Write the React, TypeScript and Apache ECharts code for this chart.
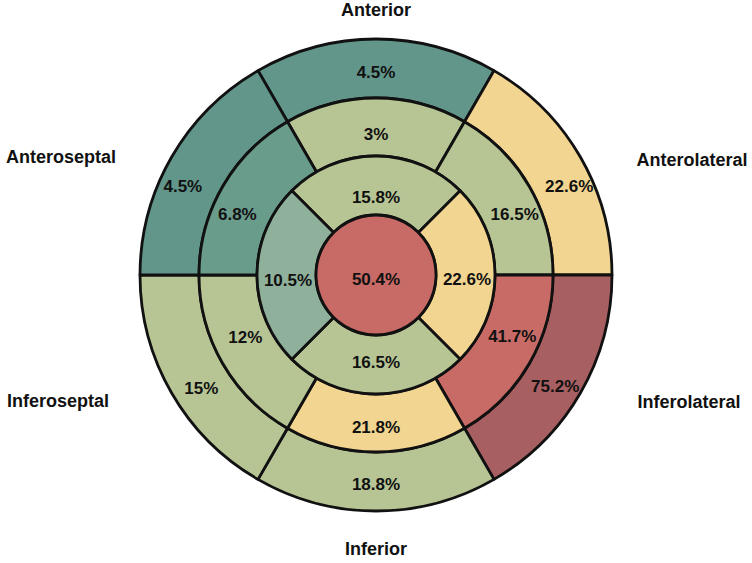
import React, { useEffect, useRef } from "react";
import * as echarts from "echarts";

// Wall regions around the bullseye (clockwise from the top)
const regionLabels = ["Anterior", "Anterolateral", "Inferolateral", "Inferior", "Inferoseptal", "Anteroseptal"];

// Basal ring (outer), clockwise from Anterior
const basalValues = [4.5, 22.6, 75.2, 18.8, 15, 4.5];
// Mid ring, clockwise from Anterior
const midValues = [3, 16.5, 41.7, 21.8, 12, 6.8];
// Apical ring: Anterior, Lateral, Inferior, Septal
const apicalNames = ["Apical anterior", "Apical lateral", "Apical inferior", "Apical septal"];
const apicalValues = [15.8, 22.6, 16.5, 10.5];
// Apex (centre)
const apexValue = 50.4;

// Fill colours per segment
const basalColors = ["#62968a", "#f2d590", "#a85f62", "#b7c595", "#b7c595", "#62968a"];
const midColors = ["#b7c595", "#b7c595", "#c86b66", "#f2d590", "#b7c595", "#6a9c8c"];
const apicalColors = ["#b7c595", "#f2d590", "#b7c595", "#8fb09a"];
const apexColor = "#c86b66";

const CX = 376;
const CY = 275;
const RADII = [0, 60, 119, 177, 236];
const LABEL_DY = 4;

// Label anchor [angle in degrees, radius] for each segment of a ring
const basalLabelPos: [number, number][] = [
  [90, 207], [25.5, 214], [-31, 209], [-90, 205], [-148, 206], [154.5, 214],
];
const midLabelPos: [number, number][] = [
  [90, 145], [25, 153], [-23, 148], [-90, 148], [-156, 143], [155, 153],
];
const apicalLabelPos: [number, number][] = [
  [90, 82], [0, 91], [-90, 83], [181, 88],
];

const fmtPct = (v: number) => `${v}%`;

function ringData(names: string[], values: number[], colors: string[]) {
  return values.map((v, i) => ({
    name: names[i],
    value: 1,
    pct: v,
    itemStyle: { color: colors[i] },
  }));
}

function labelLayoutFor(pos: [number, number][]) {
  return (params: any) => {
    const [a, r] = pos[params.dataIndex];
    const rad = (a * Math.PI) / 180;
    return { x: CX + r * Math.cos(rad), y: CY - r * Math.sin(rad) + LABEL_DY };
  };
}

const labelStyle = {
  show: true,
  position: "inside" as const,
  color: "#111",
  fontFamily: "Liberation Sans, Arial, sans-serif",
  fontWeight: "bold" as const,
  fontSize: 17,
  formatter: (p: any) => fmtPct(p.data.pct),
};

const ringBase = {
  type: "pie" as const,
  center: [CX, CY],
  clockwise: true,
  silent: true,
  avoidLabelOverlap: false,
  labelLine: { show: false },
  emphasis: { disabled: true },
  itemStyle: { borderColor: "#111", borderWidth: 2.8 },
  label: labelStyle,
};

export default function App() {
  const ref = useRef<HTMLDivElement>(null);

  useEffect(() => {
    if (!ref.current) return;
    const chart = echarts.init(ref.current, undefined, { renderer: "svg" });

    const regionTextPos: [number, number][] = [
      [376, 10],
      [692, 160],
      [689, 402],
      [376, 549],
      [58, 401],
      [61, 157],
    ];

    chart.setOption({
      animation: false,
      backgroundColor: "#ffffff",
      graphic: regionLabels.map((t, i) => ({
        type: "text",
        x: regionTextPos[i][0],
        y: regionTextPos[i][1],
        style: {
          text: t,
          fill: "#111",
          font: "bold 18px 'Liberation Sans', Arial, sans-serif",
          textAlign: "center",
          textVerticalAlign: "middle",
        },
      })),
      series: [
        {
          ...ringBase,
          name: "Basal",
          radius: [RADII[3], RADII[4]],
          startAngle: 120,
          data: ringData(regionLabels, basalValues, basalColors),
          labelLayout: labelLayoutFor(basalLabelPos),
        },
        {
          ...ringBase,
          name: "Mid",
          radius: [RADII[2], RADII[3]],
          startAngle: 120,
          data: ringData(regionLabels, midValues, midColors),
          labelLayout: labelLayoutFor(midLabelPos),
        },
        {
          ...ringBase,
          name: "Apical",
          radius: [RADII[1], RADII[2]],
          startAngle: 135,
          data: ringData(apicalNames, apicalValues, apicalColors),
          labelLayout: labelLayoutFor(apicalLabelPos),
        },
        {
          ...ringBase,
          name: "Apex",
          radius: [RADII[0], RADII[1]],
          startAngle: 90,
          data: [{ name: "Apex", value: 1, pct: apexValue, itemStyle: { color: apexColor } }],
          labelLayout: () => ({ x: CX, y: CY + LABEL_DY }),
        },
      ],
    });

    return () => chart.dispose();
  }, []);

  return (
    <div
      ref={ref}
      style={{ position: "fixed", left: 0, top: 0, width: 752, height: 563, background: "#fff" }}
    />
  );
}
